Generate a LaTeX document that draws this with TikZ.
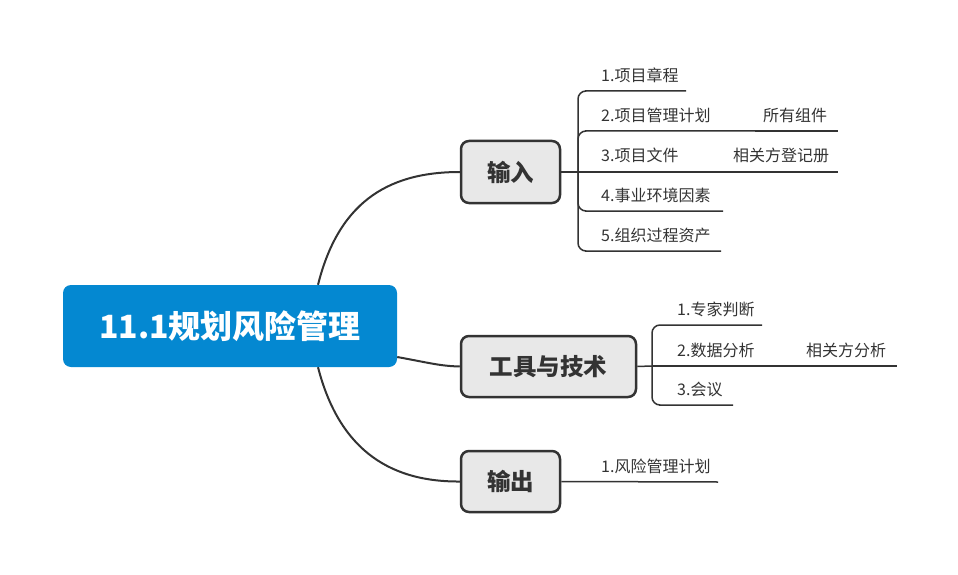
\documentclass[tikz,border=0pt]{standalone}
\usepackage{fontspec}
\setmainfont{Noto Sans CJK SC}
\definecolor{rootblue}{RGB}{4,136,209}
\definecolor{branchgray}{RGB}{232,232,232}
\definecolor{linegray}{RGB}{51,51,51}
\definecolor{txt}{RGB}{51,51,51}
\tikzset{
 root/.style={fill=rootblue, rounded corners=8pt, minimum width=334pt, minimum height=82pt, text=white, font=\fontsize{32}{36}\selectfont\bfseries, inner sep=0},
 branch/.style={fill=branchgray, draw=linegray, line width=2.5pt, rounded corners=8pt, font=\fontsize{23.5}{26}\selectfont\bfseries, text=txt, inner sep=0},
 leaf/.style={font=\fontsize{16}{18}\selectfont, text=txt, inner sep=0, anchor=west},
 link/.style={draw=linegray, line width=2pt},
 uline/.style={draw=linegray, line width=1.5pt},
 bracket/.style={draw=linegray, line width=1.5pt, rounded corners=8pt},
}
\begin{document}
\begin{tikzpicture}[x=1pt,y=-1pt]
\useasboundingbox (0,0) rectangle (958,575);
% main nodes
\node[root] (root) at (230,326) {11.1规划风险管理};
\node[branch, minimum width=99pt, minimum height=62pt] (in) at (510.5,172) {输入};
\node[branch, minimum width=175pt, minimum height=61pt] (tools) at (548.5,366.5) {工具与技术};
\node[branch, minimum width=99pt, minimum height=61pt] (out) at (510.5,481.5) {输出};
% main curves
\draw[link] ([xshift=88pt]root.north) .. controls (338,205) and (385,172) .. (in.west);
\draw[link] ([yshift=-31pt]root.east) .. controls (430,363) and (440,366) .. (tools.west);
\draw[link] ([xshift=88pt]root.south) .. controls (338,445) and (385,482) .. (out.west);
% input leaves
\coordinate (inhub) at (578,172);
\draw[uline] (in.east) -- (inhub);
\node[leaf] (i1) at (601,75) {1.项目章程};
\node[leaf] (i2) at (601,115) {2.项目管理计划};
\node[leaf] (i3) at (601,155) {3.项目文件};
\node[leaf] (i4) at (601,195) {4.事业环境因素};
\node[leaf] (i5) at (601,235) {5.组织过程资产};
\coordinate (i1s) at (593,91);  \coordinate (i1e) at (686,91);
\coordinate (i2s) at (593,131); \coordinate (i2e) at (755,131);
\coordinate (i3s) at (593,172); \coordinate (i3e) at (724,172);
\coordinate (i4s) at (593,211); \coordinate (i4e) at (723,211);
\coordinate (i5s) at (593,251); \coordinate (i5e) at (721,251);
\draw[bracket] (inhub) |- (i1s) -- (i1e);
\draw[bracket] (inhub) |- (i2s) -- (i2e);
\draw[uline] (inhub) -- (i3e);
\draw[bracket] (inhub) |- (i4s) -- (i4e);
\draw[bracket] (inhub) |- (i5s) -- (i5e);
\node[leaf] (i2a) at (763,115) {所有组件};
\coordinate (i2ae) at (838,131);
\draw[uline] (i2e) -- (i2ae);
\node[leaf] (i3a) at (733,155) {相关方登记册};
\coordinate (i3ae) at (838,172);
\draw[uline] (i3e) -- (i3ae);
% tools leaves
\coordinate (thub) at (652,366);
\draw[uline] (tools.east) -- (thub);
\node[leaf] (t1) at (677,309) {1.专家判断};
\node[leaf] (t2) at (677,350) {2.数据分析};
\node[leaf] (t3) at (677,389) {3.会议};
\coordinate (t1s) at (667,325); \coordinate (t1e) at (762,325);
\coordinate (t2e) at (795,366);
\coordinate (t3s) at (667,405); \coordinate (t3e) at (733,405);
\draw[bracket] (thub) |- (t1s) -- (t1e);
\draw[uline] (thub) -- (t2e);
\draw[bracket] (thub) |- (t3s) -- (t3e);
\node[leaf] (t2a) at (806,350) {相关方分析};
\coordinate (t2ae) at (897,366);
\draw[uline] (t2e) -- (t2ae);
% output leaf
\node[leaf] (o1) at (601,466) {1.风险管理计划};
\coordinate (o1e) at (718,482);
\draw[uline] (out.east) -- (o1e);
\end{tikzpicture}
\end{document}
